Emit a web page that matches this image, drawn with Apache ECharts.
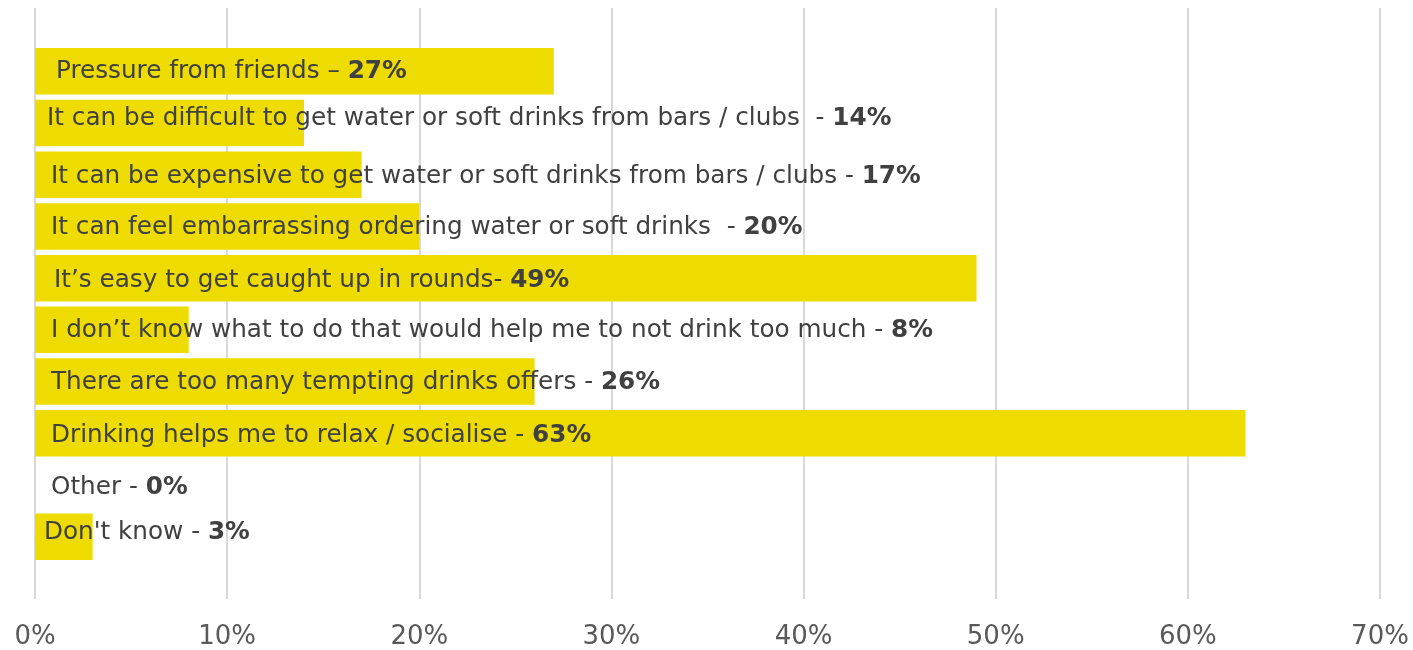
<!DOCTYPE html>
<html>
<head>
<meta charset="utf-8">
<script src="https://cdn.jsdelivr.net/npm/echarts@6/dist/echarts.min.js"></script>
<style>
html,body{margin:0;padding:0;background:#fff;}
#chart{width:1413px;height:650px;}
</style>
</head>
<body>
<div id="chart"></div>
<script>
var categories = [
  "Pressure from friends \u2013 ",
  "It can be difficult to get water or soft drinks from bars / clubs  - ",
  "It can be expensive to get water or soft drinks from bars / clubs - ",
  "It can feel embarrassing ordering water or soft drinks  - ",
  "It\u2019s easy to get caught up in rounds- ",
  "I don\u2019t know what to do that would help me to not drink too much - ",
  "There are too many tempting drinks offers - ",
  "Drinking helps me to relax / socialise - ",
  "Other - ",
  "Don't know - "
];
var values = [27, 14, 17, 20, 49, 8, 26, 63, 0, 3];
var tickLabels = ["0%", "10%", "20%", "30%", "40%", "50%", "60%", "70%"];

// label placement tweaks (style only)
var labelDx = [21, 12, 16, 16, 19, 16, 16, 16, 16, 9];
var labelDy = [0, -4, 2, 1, 2, 1, 1, 2, 3, -4];

var chart = echarts.init(document.getElementById('chart'), null, {renderer: 'canvas'});

var seriesData = values.map(function (v, i) {
  return {
    value: v,
    label: {
      offset: [labelDx[i] - 16, labelDy[i]]
    }
  };
});

var option = {
  backgroundColor: '#ffffff',
  animation: false,
  grid: [
    {left: 35, right: 33, top: 8, height: 591, containLabel: false},
    {left: 35, right: 33, top: 45.5, height: 517, containLabel: false}
  ],
  xAxis: [
    {
      gridIndex: 0, type: 'value', min: 0, max: 70, interval: 10,
      axisLine: {show: false}, axisTick: {show: false},
      splitLine: {show: true, lineStyle: {color: '#d9d9d9', width: 2}},
      axisLabel: {
        margin: 25,
        color: '#595959',
        fontFamily: 'DejaVu Sans',
        fontSize: 26,
        formatter: function (v) { return tickLabels[Math.round(v / 10)]; }
      }
    },
    {
      gridIndex: 1, type: 'value', min: 0, max: 70, interval: 10, show: false,
      splitLine: {show: false}
    }
  ],
  yAxis: [
    {gridIndex: 0, type: 'value', show: false, splitLine: {show: false}},
    {
      gridIndex: 1, type: 'category', data: categories, inverse: true, show: false
    }
  ],
  series: [
    {
      type: 'bar',
      xAxisIndex: 1,
      yAxisIndex: 1,
      data: seriesData,
      barCategoryGap: '10%',
      itemStyle: {color: '#EEDC00'},
      label: {
        show: true,
        position: 'insideLeft',
        distance: 16,
        formatter: function (p) {
          return '{n|' + categories[p.dataIndex] + '}{b|' + values[p.dataIndex] + '%}';
        },
        rich: {
          n: {fontFamily: 'DejaVu Sans', fontSize: 24.7, color: '#404040'},
          b: {fontFamily: 'DejaVu Sans', fontSize: 24.7, color: '#404040', fontWeight: 'bold'}
        }
      }
    }
  ]
};
chart.setOption(option);
</script>
</body>
</html>
